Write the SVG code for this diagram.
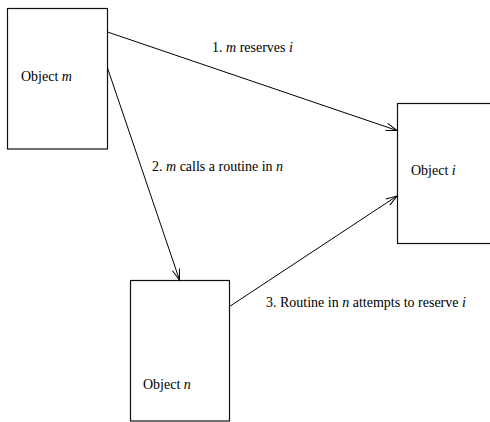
<svg xmlns="http://www.w3.org/2000/svg" width="490" height="422" viewBox="0 0 490 422">
  <style>
    .box { fill: #fff; stroke: #111; stroke-width: 1.2; }
    .lbl { font-family: "Liberation Serif", "Times New Roman", serif; font-size: 14px; fill: #000; }
    .it { font-style: italic; }
    .edge { fill: none; stroke: #000; stroke-width: 1; marker-end: url(#open); }
  </style>
  <defs>
    <marker id="open" markerUnits="userSpaceOnUse" markerWidth="14" markerHeight="10" refX="12" refY="5" orient="auto">
      <path d="M1,1.3 L12,5 L1,8.7" fill="none" stroke="#000" stroke-width="1"/>
    </marker>
  </defs>

  <rect width="490" height="422" fill="#fff"/>

  <g id="node-m">
    <rect class="box" x="7.5" y="8.5" width="100" height="140.5"/>
    <text class="lbl" x="21" y="81">Object <tspan class="it">m</tspan></text>
  </g>

  <g id="node-i">
    <rect class="box" x="397.5" y="103.5" width="100" height="140"/>
    <text class="lbl" x="411" y="175">Object <tspan class="it">i</tspan></text>
  </g>

  <g id="node-n">
    <rect class="box" x="130.5" y="280.5" width="99" height="140.5"/>
    <text class="lbl" x="143" y="389">Object <tspan class="it">n</tspan></text>
  </g>

  <g id="connectors">
    <line class="edge" x1="107.5" y1="32" x2="397" y2="130.5"/>
    <line class="edge" x1="107.5" y1="68" x2="179.5" y2="280"/>
    <line class="edge" x1="229.5" y1="306.5" x2="397" y2="196"/>
    <text class="lbl" x="212" y="52">1. <tspan class="it">m</tspan> reserves <tspan class="it">i</tspan></text>
    <text class="lbl" x="152" y="171">2. <tspan class="it">m</tspan> calls a routine in <tspan class="it">n</tspan></text>
    <text class="lbl" x="266" y="307">3. Routine in <tspan class="it">n</tspan> attempts to reserve <tspan class="it">i</tspan></text>
  </g>
</svg>
